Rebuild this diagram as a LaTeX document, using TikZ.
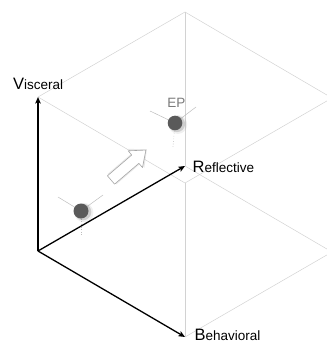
\documentclass[tikz,border=0pt]{standalone}
\usepackage{fontspec}
\setmainfont{Liberation Sans}
\usetikzlibrary{arrows.meta,calc}
\definecolor{edgegray}{HTML}{D2D2D2}
\definecolor{dotgray}{HTML}{5A5A5A}
\definecolor{labgray}{HTML}{7A7A7A}
\definecolor{crossgray}{HTML}{BDBDBD}
\newcommand{\capword}[2]{{\fontsize{16.5}{16.5}\selectfont #1}{\fontsize{13.5}{13.5}\selectfont #2}}
\tikzset{
  axis/.style={line width=1.3pt,-{Stealth[length=6.5pt,width=5.5pt,inset=1.5pt]}},
  cubeedge/.style={line width=0.5pt,draw=edgegray},
  lab/.style={anchor=base west,inner sep=0pt,text=black},
  crossline/.style={line width=0.5pt,draw=crossgray},
  crossdot/.style={line width=0.6pt,draw=crossgray,dotted},
  ball/.style={fill=dotgray,draw=none},
  ballshade/.style={fill=gray,draw=none},
  blockarrow/.style={fill=white,draw=gray!70,line width=0.6pt,line join=round},
}
\begin{document}
\begin{tikzpicture}[x=1pt,y=-1pt]
\useasboundingbox (0,0) rectangle (326,347);
% cube vertices
\coordinate (O) at (38,251);
\coordinate (V) at (38,97);
\coordinate (R) at (185,166);
\coordinate (B) at (185,337);
\coordinate (VR) at (185,12);
\coordinate (VB) at (185,183);
\coordinate (RB) at (332,252);
\coordinate (VRB) at (332,98);
% grey cube edges
\draw[cubeedge] (V) -- (VR);
\draw[cubeedge] (V) -- (VB);
\draw[cubeedge] (VR) -- (VRB);
\draw[cubeedge] (VB) -- (VRB);
\draw[cubeedge] (VR) -- (R);
\draw[cubeedge] (VB) -- (B);
\draw[cubeedge] (R) -- (RB);
\draw[cubeedge] (B) -- (RB);
\draw[cubeedge] (RB) -- (VRB);
% first point
\coordinate (P1) at (81,211);
\coordinate (P1a) at (58,197);
\coordinate (P1b) at (103,195);
\coordinate (P1c) at (81,235);
\draw[crossline] (P1a) -- (P1);
\draw[crossline] (P1b) -- (P1);
\draw[crossdot] (P1) -- (P1c);
\fill[ballshade,opacity=0.12] ($(P1)+(2.8,1.5)$) circle (9.6);
\fill[ballshade,opacity=0.3] ($(P1)+(2,1)$) circle (8.3);
\fill[ball] (P1) circle (7.5);
% EP point
\coordinate (P2) at (175,123);
\coordinate (P2a) at (150,111);
\coordinate (P2b) at (196,107);
\coordinate (P2c) at (173,147);
\draw[crossline] (P2a) -- (P2);
\draw[crossline] (P2b) -- (P2);
\draw[crossdot] (P2) -- (P2c);
\fill[ballshade,opacity=0.12] ($(P2)+(2.8,1.5)$) circle (9.4);
\fill[ballshade,opacity=0.3] ($(P2)+(2,1)$) circle (8.1);
\fill[ball] (P2) circle (7.3);
\node[inner sep=0pt,text=labgray,font=\fontsize{13.5}{13.5}\selectfont] (ep) at (176.3,102.5) {EP};
% white block arrow
\begin{scope}[shift={(111,180)},rotate=40.6]
\fill[gray,opacity=0.18] (1.2,-6.8) -- (33.2,-6.8) -- (33.2,-12.5) -- (47.3,0) -- (33.2,12.5) -- (33.2,6.8) -- (1.2,6.8) -- cycle;
\draw[blockarrow] (0,-5.5) -- (32,-5.5) -- (32,-11) -- (46,0) -- (32,11) -- (32,5.5) -- (0,5.5) -- cycle;
\end{scope}
% axes
\draw[axis] (O) -- (V);
\draw[axis] (O) -- (R);
\draw[axis] (O) -- (B);
% labels
\node[lab] (lv) at (13,89.5) {\capword{V}{isceral}};
\node[lab] (lr) at (192.5,172) {\capword{R}{eflective}};
\node[lab] (lb) at (194.5,340) {\capword{B}{ehavioral}};
\end{tikzpicture}
\end{document}
